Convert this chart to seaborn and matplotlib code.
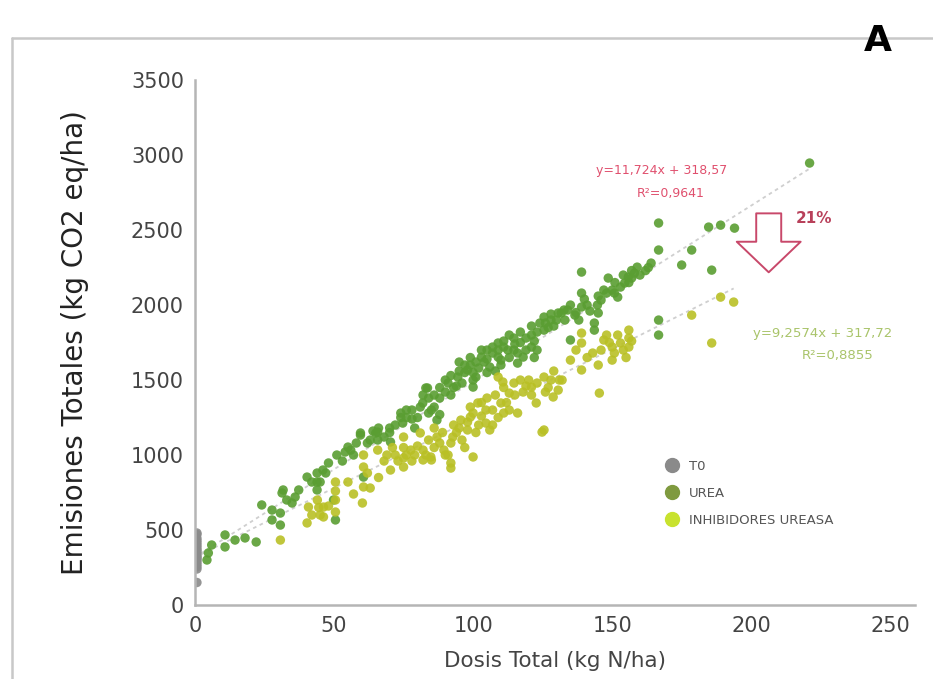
import numpy as np
import pandas as pd
import matplotlib
matplotlib.use('Agg')
import matplotlib.pyplot as plt
import seaborn as sns
from matplotlib.lines import Line2D

# Datos
t0_x = [0.7] * 19
t0_y = [150, 240, 255, 270, 285, 300, 310, 320, 330, 345, 360, 370, 385, 400, 415, 430, 445, 470, 480]

urea_x = [4.3, 4.8, 6, 10.8, 10.8, 14.4, 18, 22, 24, 27.7, 27.7, 30.7, 30.7, 31.3, 31.7, 34.9,
          37.3, 40.3, 43.9, 43.9, 43.9, 48, 49.8, 50.5, 51, 55, 56, 59.5, 59.5, 60.6, 63, 65,
          65.7, 65.7, 70.3, 74, 74.7, 74, 81, 81.9, 83, 83.6, 84, 86, 87, 91, 94.5, 95, 98,
          100, 103, 105, 106, 109, 109, 110, 112.5, 114.7, 114.7, 116, 118, 121, 121, 123,
          125.5, 125.5, 128, 130.6, 131.7, 132.7, 134, 135, 136.6, 139, 139, 139, 143.6, 143.6,
          144.7, 145, 146, 147, 148.6, 150.8, 152, 153, 154.5, 155.8, 158, 159, 164, 166.7,
          166.7, 166.7, 166.7, 175, 178.6, 184.7, 185.8, 189, 194, 221,
          88, 90, 92, 96, 97, 99, 101, 102, 104, 107, 108, 111, 113, 117, 119, 122, 124, 127,
          76, 78, 79, 68, 70, 57, 53, 47, 45, 62, 150, 156, 157, 141, 142, 138, 133, 129, 160,
          163, 93, 100, 105, 85, 80, 88,
          95, 97, 99, 101, 103, 105, 107, 109, 111, 113, 115, 117, 119, 121, 123, 126, 128, 130,
          86, 88, 90, 84, 82, 78, 72, 66, 64, 58, 54, 46, 42, 36, 33, 148, 151, 154, 157, 145,
          137, 135, 140, 162, 110, 100, 92, 94, 122, 116, 76, 70]
urea_y = [300, 347, 400, 467, 387, 433, 447, 420, 667, 633, 567, 613, 533, 747, 767, 680,
          767, 853, 880, 820, 767, 947, 700, 567, 1000, 1053, 1033, 1133, 1147, 853, 1100, 1147,
          1153, 1100, 1087, 1280, 1213, 1250, 1320, 1347, 1447, 1447, 1280, 1320, 1233, 1480,
          1520, 1620, 1567, 1453, 1653, 1700, 1587, 1747, 1653, 1633, 1700, 1780, 1700, 1613,
          1653, 1800, 1720, 1700, 1920, 1833, 1900, 1947, 1947, 1967, 1967, 1767, 1933, 2220,
          2080, 1987, 1880, 1833, 2000, 1947, 2033, 2100, 2180, 2080, 2053, 2120, 2147, 2187,
          2213, 2253, 2280, 2547, 2367, 1900, 1800, 2267, 2367, 2520, 2233, 2533, 2513, 2947,
          1380, 1420, 1400, 1480, 1550, 1600, 1520, 1580, 1620, 1680, 1560, 1720, 1650, 1750,
          1700, 1760, 1880, 1850, 1300, 1240, 1180, 1120, 1180, 1000, 960, 880, 820, 1080, 2100,
          2150, 2230, 2000, 1960, 1900, 1900, 1860, 2200, 2250, 1450, 1500, 1550, 1300, 1250, 1270,
          1560, 1600, 1650, 1620, 1700, 1640, 1720, 1700, 1760, 1800, 1740, 1820, 1780, 1860,
          1820, 1880, 1940, 1900, 1400, 1450, 1500, 1380, 1400, 1300, 1200, 1180, 1160, 1080,
          1020, 900, 820, 720, 700, 2080, 2150, 2200, 2180, 2060, 1950, 2000, 2040, 2230, 1600,
          1550, 1530, 1460, 1650, 1680, 1250, 1150]

inhib_x = [30.7, 40.8, 40.3, 44, 44.5, 45, 46.2, 46.2, 50.5, 50.5, 50.5, 50.5, 60.2, 60.6,
           60.6, 60.6, 63, 65.7, 70.3, 75, 75, 75, 75, 77.6, 81, 82, 82, 85, 84.8, 89.5, 92, 92,
           92, 92.7, 95.6, 98, 99, 99, 100, 101.7, 104.6, 104.6, 106, 109, 110, 110.7, 111, 113,
           114.7, 116, 121, 121, 122.7, 124.8, 125.5, 125.5, 128, 128.8, 130.6, 135, 139, 139,
           139, 145, 145.4, 147, 150, 150, 150.8, 153, 156, 156, 156, 178.6, 185.8, 189, 193.7,
           84, 86, 88, 94, 96, 102, 103, 107, 108, 112, 118, 120, 127, 132, 66, 68, 72, 79, 90,
           97, 143, 148, 155, 152,
           76, 78, 80, 83, 86, 87, 89, 91, 93, 95, 98, 100, 101, 103, 105, 107, 109, 111, 113,
           115, 117, 119, 123, 126, 129, 131, 141, 146, 149, 154, 157, 137, 57, 55, 48, 42, 62,
           69, 73, 71]
inhib_y = [433, 653, 547, 700, 650, 600, 587, 653, 620, 700, 760, 820, 680, 787, 920, 1000,
           780, 1033, 900, 920, 980, 1050, 1120, 1033, 1147, 967, 1033, 967, 987, 1033, 947, 913,
           1080, 1120, 1233, 1167, 1320, 1253, 987, 1347, 1300, 1213, 1167, 1520, 1347, 1487,
           1280, 1413, 1480, 1280, 1453, 1400, 1347, 1153, 1520, 1167, 1500, 1387, 1433, 1633,
           1567, 1747, 1813, 1600, 1413, 1767, 1720, 1633, 1680, 1747, 1720, 1780, 1833, 1933,
           1747, 2053, 2020,
           1100, 1180, 1080, 1150, 1100, 1200, 1260, 1300, 1400, 1350, 1420, 1500, 1450, 1500,
           850, 960, 1000, 1000, 1000, 1050, 1680, 1800, 1650, 1800,
           1000, 960, 1060, 1000, 1050, 1120, 1150, 1000, 1200, 1180, 1220, 1280, 1150, 1350,
           1380, 1200, 1250, 1450, 1300, 1400, 1500, 1460, 1480, 1420, 1560, 1500, 1650, 1700,
           1750, 1700, 1760, 1700, 740, 820, 660, 600, 880, 1000, 960, 1050]

grupos = ['T0', 'UREA', 'INHIBIDORES UREASA']
colores_puntos = ['#8a8a8a', '#5a9e32', '#b9c025']
colores_leyenda = ['#8a8a8a', '#7f9a3f', '#c8e22e']

# coeficientes de las rectas de ajuste (del grafico)
pendientes = [11.724, 9.2574]
ordenadas = [318.57, 317.72]

df = pd.DataFrame({
    'dosis': t0_x + urea_x + inhib_x,
    'emisiones': t0_y + urea_y + inhib_y,
    'grupo': ['T0'] * len(t0_x) + ['UREA'] * len(urea_x) + ['INHIBIDORES UREASA'] * len(inhib_x),
})

sns.set_style('white')
plt.rcParams['font.family'] = ['DejaVu Sans']

fig = plt.figure(figsize=(9.33, 6.79), dpi=100)
ax = fig.add_axes([0.209, 0.109, 0.772, 0.773])

# rectas de tendencia
for xs, m, b in [(urea_x, pendientes[0], ordenadas[0]), (inhib_x, pendientes[1], ordenadas[1])]:
    xx = np.array([0, max(xs)])
    ax.plot(xx, m * xx + b, color='#cfcfcf', lw=1.3, ls=(0, (2, 2)), zorder=1)

sns.scatterplot(data=df, x='dosis', y='emisiones', hue='grupo', hue_order=grupos,
                palette=colores_puntos, s=46, alpha=0.9, linewidth=0, legend=False, ax=ax, zorder=2)

ax.set_xlim(0, 259)
ax.set_ylim(0, 3500)
ax.set_xticks([0, 50, 100, 150, 200, 250])
ax.set_yticks([0, 500, 1000, 1500, 2000, 2500, 3000, 3500])
ax.tick_params(axis='both', labelsize=15, colors='#444444', length=0, pad=8)
for s in ['top', 'right']:
    ax.spines[s].set_visible(False)
for s in ['left', 'bottom']:
    ax.spines[s].set_color('#b5b5b5')
    ax.spines[s].set_linewidth(1.8)

ax.set_xlabel('Dosis Total (kg N/ha)', fontsize=15.5, color='#444444', labelpad=11)
ax.set_ylabel('Emisiones Totales (kg CO2 eq/ha)', fontsize=20, color='#222222', labelpad=30)

# ecuaciones
ax.text(167.7, 2900, 'y=11,724x + 318,57', color='#e0506e', fontsize=9, ha='center', va='center')
ax.text(171, 2747, 'R²=0,9641', color='#e0506e', fontsize=9, ha='center', va='center')
ax.text(225.8, 1813, 'y=9,2574x + 317,72', color='#a9c46a', fontsize=9.5, ha='center', va='center')
ax.text(230.9, 1667, 'R²=0,8855', color='#a9c46a', fontsize=9.5, ha='center', va='center')

# flecha de reduccion
ax.annotate('', xy=(206.3, 2200), xytext=(206.3, 2630),
            arrowprops=dict(arrowstyle='simple,head_length=1.1,head_width=2.3,tail_width=0.9',
                            fc='white', ec='#c8486a', lw=1.4, mutation_scale=20))
ax.text(222.6, 2580, '21%', color='#b8405a', fontsize=11, fontweight='bold', ha='center', va='center')

# leyenda
handles = [Line2D([0], [0], marker='o', ls='', markersize=10, markerfacecolor=c, markeredgecolor=c)
           for c in colores_leyenda]
ax.legend(handles, grupos, loc='center left', bbox_to_anchor=(0.635, 0.213), frameon=False,
          fontsize=9.5, labelcolor='#555555', handletextpad=0.3, labelspacing=1.05, borderpad=0)

# marco exterior y letra del panel
fig.add_artist(Line2D([12 / 933, 1], [1 - 38 / 679, 1 - 38 / 679], color='#c8c8c8', lw=1.8))
fig.add_artist(Line2D([12 / 933, 12 / 933], [0, 1 - 38 / 679], color='#c8c8c8', lw=1.8))
fig.text(0.941, 0.94, 'A', fontsize=26, fontweight='bold', ha='center', va='center', color='black')

fig.savefig('out.png', dpi=100)
